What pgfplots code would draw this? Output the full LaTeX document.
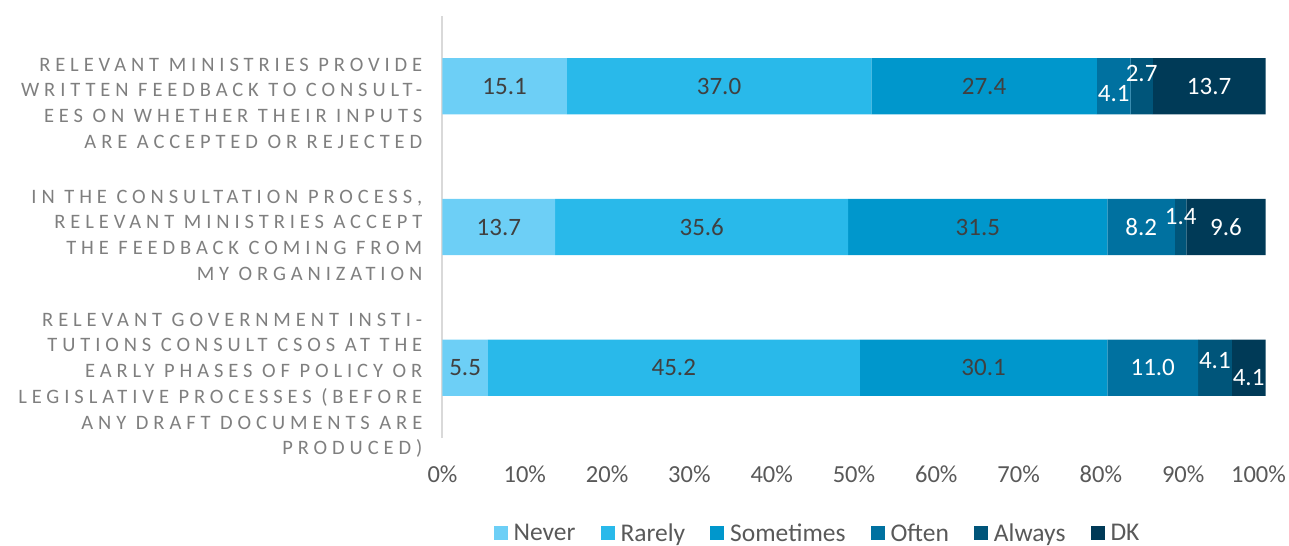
\documentclass[border=0pt]{standalone}
\usepackage{fontspec}
\setmainfont{Carlito}
\newfontfamily\spaced[LetterSpace=24]{Carlito}
\usepackage{pgfplots}
\pgfplotsset{compat=1.18}
\definecolor{cNever}{HTML}{6DCFF6}
\definecolor{cRarely}{HTML}{29B9EA}
\definecolor{cSometimes}{HTML}{0097CC}
\definecolor{cOften}{HTML}{0071A0}
\definecolor{cAlways}{HTML}{00557A}
\definecolor{cDK}{HTML}{003A57}
\definecolor{labdark}{HTML}{404040}
\definecolor{catgray}{HTML}{7F7F7F}
\definecolor{tickgray}{HTML}{595959}
\definecolor{axgray}{HTML}{D9D9D9}
\pgfplotsset{
  common/.style={
    at={(0,0)}, anchor=south west,
    scale only axis, width=823bp, height=422bp,
    xmin=0, xmax=100, ymin=-0.5, ymax=2.5,
  }
}
\begin{document}
\begin{tikzpicture}
\begin{axis}[common,
  xbar stacked, bar width=0.4,
  axis x line*=bottom, x axis line style={draw=none},
  axis y line*=left, y axis line style={draw=axgray, line width=2bp},
  major tick length=0pt,
  xtick={0,10,20,30,40,50,60,70,80,90,99.15},
  xticklabels={0\%,10\%,20\%,30\%,40\%,50\%,60\%,70\%,80\%,90\%,100\%},
  xticklabel style={font=\fontsize{24.5bp}{28bp}\selectfont, text=tickgray, anchor=center, yshift=-36bp},
  ytick={-0.125,0.943,1.88},
  yticklabels={
    {RELEVANT GOVERNMENT INSTI-\\TUTIONS CONSULT CSOS AT THE\\EARLY PHASES OF POLICY OR\\LEGISLATIVE PROCESSES (BEFORE\\ANY DRAFT DOCUMENTS ARE\\PRODUCED)},
    {IN THE CONSULTATION PROCESS,\\RELEVANT MINISTRIES ACCEPT\\THE FEEDBACK COMING FROM\\MY ORGANIZATION},
    {RELEVANT MINISTRIES PROVIDE\\WRITTEN FEEDBACK TO CONSULT-\\EES ON WHETHER THEIR INPUTS\\ARE ACCEPTED OR REJECTED}},
  yticklabel style={align=right, anchor=east, inner sep=0pt, xshift=-20bp, text=catgray,
    font=\spaced\fontsize{20.5bp}{25.7bp}\selectfont},
  legend style={at={(0.4545,-0.226)}, anchor=center, draw=none, fill=none,
    legend columns=-1, font=\fontsize{25.5bp}{29bp}\selectfont, text=tickgray,
    nodes={inner xsep=0pt, inner ysep=1bp},
    /tikz/every odd column/.append style={column sep=6bp},
    /tikz/every even column/.append style={column sep=25bp}},
  legend image code/.code={\fill[#1] (0bp,-7bp) rectangle (14bp,7bp);},
]
\addplot[fill=cNever, draw=none] coordinates {(5.5,0) (13.7,1) (15.1,2)};
\addlegendentry{Never}
\addplot[fill=cRarely, draw=none] coordinates {(45.2,0) (35.6,1) (37.0,2)};
\addlegendentry{Rarely}
\addplot[fill=cSometimes, draw=none] coordinates {(30.1,0) (31.5,1) (27.4,2)};
\addlegendentry{Sometimes}
\addplot[fill=cOften, draw=none] coordinates {(11.0,0) (8.2,1) (4.1,2)};
\addlegendentry{Often}
\addplot[fill=cAlways, draw=none] coordinates {(4.1,0) (1.4,1) (2.7,2)};
\addlegendentry{Always}
\addplot[fill=cDK, draw=none] coordinates {(4.1,0) (9.6,1) (13.7,2)};
\addlegendentry{DK}
\end{axis}
\begin{axis}[common, hide axis]
\addplot[draw=none, mark=none, nodes near coords, point meta=explicit symbolic,
  visualization depends on={\thisrow{dy}\as\dy},
  nodes near coords style={anchor=center, yshift=\dy bp, text=labdark,
    font=\fontsize{25bp}{29bp}\selectfont}]
  table[meta=lab] {
x y lab dy
7.55 2 15.1 0
33.6 2 37.0 0
65.8 2 27.4 0
6.85 1 13.7 0
31.5 1 35.6 0
65.05 1 31.5 0
2.75 0 5.5 0
28.1 0 45.2 0
65.75 0 30.1 0
};
\addplot[draw=none, mark=none, nodes near coords, point meta=explicit symbolic,
  visualization depends on={\thisrow{dy}\as\dy},
  nodes near coords style={anchor=center, yshift=\dy bp, text=white,
    font=\fontsize{25bp}{29bp}\selectfont}]
  table[meta=lab] {
x y lab dy
81.55 2 4.1 -7
84.95 2 2.7 13
93.15 2 13.7 0
84.9 1 8.2 0
89.7 1 1.4 10
95.2 1 9.6 0
86.3 0 11.0 0
93.85 0 4.1 7
97.95 0 4.1 -10
};
\end{axis}
\pgfresetboundingbox
\path[use as bounding box] (-442.5bp,-108bp) rectangle (846.5bp,438bp);
\end{tikzpicture}
\end{document}
